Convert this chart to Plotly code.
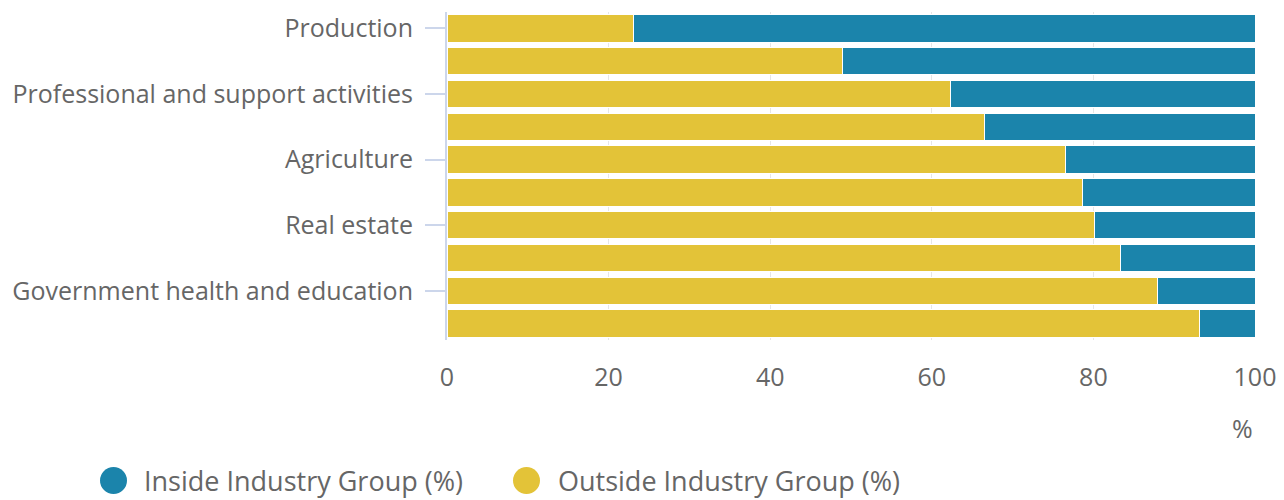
import plotly.graph_objects as go

tick_labels = ["Production", "Professional and support activities", "Agriculture",
               "Real estate", "Government health and education"]
outside = [23.1, 49.0, 62.3, 66.5, 76.5, 78.7, 80.1, 83.4, 87.9, 93.1]
inside = [round(100 - v, 1) for v in outside]
rows = list(range(len(outside)))
tick_rows = rows[::2]
series_names = ["Inside Industry Group (%)", "Outside Industry Group (%)"]

YELLOW = "#e3c338"
BLUE = "#1b84ab"
FONT = "Open Sans"

# page geometry (body has 8px margin)
PL, PR, PT, PB = 447, 1255, 12, 340
PW, PH = PR - PL, PB - PT


def px(x):
    return (x - PL) / PW


def py(y):
    return (PB - y) / PH


fig = go.Figure()
fig.add_trace(go.Bar(y=rows, x=outside, orientation="h", marker=dict(color=YELLOW, line=dict(color="white", width=1)),
                     name=series_names[1], showlegend=False, width=0.83))
fig.add_trace(go.Bar(y=rows, x=inside, orientation="h", marker=dict(color=BLUE, line=dict(color="white", width=1)),
                     name=series_names[0], showlegend=False, width=0.83))

fig.update_layout(
    width=1276, height=492,
    barmode="stack",
    plot_bgcolor="white", paper_bgcolor="white",
    margin=dict(l=439, r=29, t=4, b=160, autoexpand=False),
    font=dict(family=FONT, size=25, color="#666666"),
    xaxis=dict(range=[0, 100], tickvals=[0, 20, 40, 60, 80, 100], showgrid=True, gridcolor="#e6e6e6",
               gridwidth=1, zeroline=False, showline=False, ticks="", ticklabelstandoff=20,
               tickfont=dict(size=25, color="#666666"), automargin=False),
    yaxis=dict(range=[9.5, -0.5], tickvals=tick_rows, ticktext=tick_labels, ticks="outside", ticklen=20,
               tickcolor="#ccd6eb", tickwidth=2, showline=True, linecolor="#ccd6eb", linewidth=2,
               showgrid=False, zeroline=False, ticklabelstandoff=7, automargin=False,
               tickfont=dict(size=25, color="#666666")),
    showlegend=False,
)
fig.add_annotation(text="%", xref="paper", yref="paper", x=1.0, y=py(428), xanchor="right", yanchor="middle",
                   showarrow=False, font=dict(size=25, color="#666666"))

# custom legend with large circle markers
legend_items = [(series_names[0], BLUE, 100, 143), (series_names[1], YELLOW, 513, 557)]
for name, color, cx, tx in legend_items:
    fig.add_shape(type="circle", xref="paper", yref="paper", x0=px(cx), x1=px(cx + 27),
                  y0=py(494), y1=py(467), fillcolor=color, line=dict(width=0))
    fig.add_annotation(text=name, xref="paper", yref="paper", x=px(tx), y=py(500), xanchor="left",
                       yanchor="bottom", showarrow=False, borderpad=0, font=dict(size=27, color="#666666"))

fig.write_html("out.html")
